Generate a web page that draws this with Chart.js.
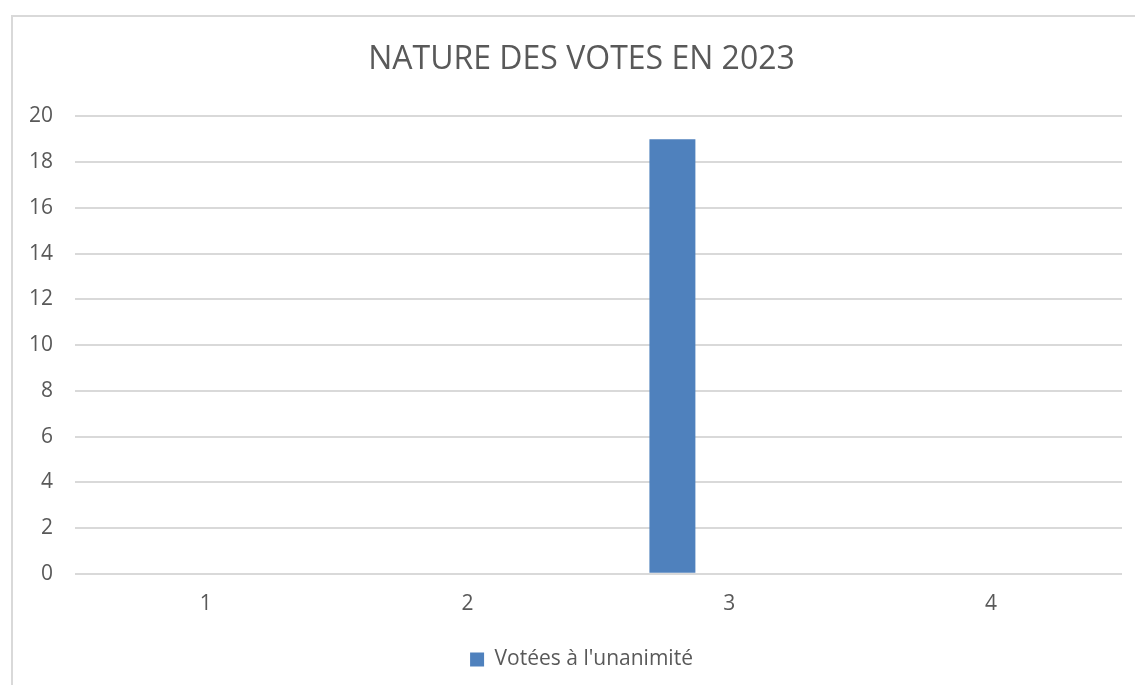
<!DOCTYPE html>
<html>
<head>
<meta charset="utf-8">
<script src="https://cdn.jsdelivr.net/npm/chart.js@4/dist/chart.umd.min.js"></script>
<style>
  html, body { margin: 0; padding: 0; background: #fff; overflow: hidden; }
  #frame {
    position: absolute; left: 11px; top: 15px; width: 1140px; height: 700px;
    border-left: 2px solid #d9d9d9; border-top: 2px solid #d9d9d9;
  }
  /* the chart frame runs past the right edge of the window, so the canvas does too */
  #wrap { position: absolute; left: 0; top: 0; width: 1164px; height: 685px; }
</style>
</head>
<body>
<div id="frame"></div>
<div id="wrap"><canvas id="chart" width="1164" height="685"></canvas></div>
<script>
// Chart data
const categories = ['1', '2', '3', '4'];
const unanimite = [0, 0, 19, 0];
// Two other series are present in the source workbook but empty (no legend entry)
const serie2 = [0, 0, 0, 0];
const serie3 = [0, 0, 0, 0];

const titleText = 'NATURE DES VOTES EN 2023';
const textColor = '#595959';
const gridColor = '#d9d9d9';
const font = "'Open Sans', sans-serif";

const ctx = document.getElementById('chart').getContext('2d');
new Chart(ctx, {
  type: 'bar',
  data: {
    labels: categories,
    datasets: [
      { label: "Votées à l'unanimité", data: unanimite, backgroundColor: '#4f81bd', borderWidth: 0 },
      { label: '', data: serie2, backgroundColor: '#c0504d', borderWidth: 0 },
      { label: '', data: serie3, backgroundColor: '#9bbb59', borderWidth: 0 }
    ]
  },
  options: {
    responsive: false,
    animation: false,
    datasets: {
      bar: { categoryPercentage: 0.653, barPercentage: 0.807 }
    },
    layout: { padding: { left: 12, right: 13, top: 0, bottom: 5 } },
    scales: {
      x: {
        grid: { display: false, drawTicks: false },
        border: { display: false },
        ticks: { color: textColor, font: { family: font, size: 21 }, padding: 18 }
      },
      y: {
        min: 0,
        max: 20,
        ticks: { stepSize: 2, color: textColor, font: { family: font, size: 21 }, padding: 22 },
        grid: { color: gridColor, lineWidth: 2, drawTicks: false },
        border: { display: false },
        afterFit: (scale) => { scale.width = 63; }
      },
      // empty right-hand margin so the title and legend centre on the whole frame
      yRight: {
        position: 'right',
        min: 0,
        max: 20,
        grid: { display: false },
        border: { display: false },
        ticks: { display: false },
        afterFit: (scale) => { scale.width = 29; }
      }
    },
    plugins: {
      title: {
        display: true,
        text: titleText,
        color: textColor,
        font: { family: font, size: 32, weight: 'normal' },
        padding: { top: 41, bottom: 37 }
      },
      legend: {
        position: 'bottom',
        labels: {
          color: textColor,
          font: { family: font, size: 21 },
          boxWidth: 14,
          boxHeight: 14,
          padding: 14,
          filter: (item) => item.text !== ''
        }
      },
      tooltip: { enabled: false }
    }
  }
});
</script>
</body>
</html>
